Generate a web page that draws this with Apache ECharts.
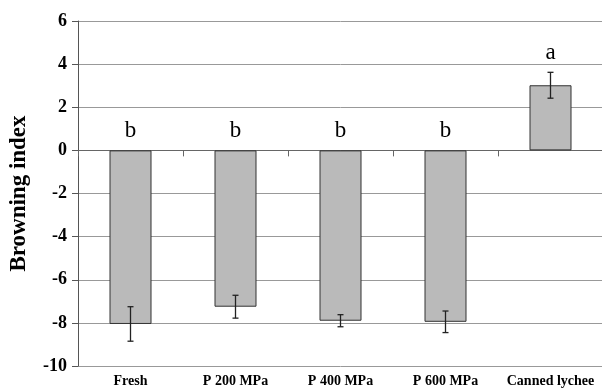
<!DOCTYPE html>
<html><head><meta charset="utf-8">
<script src="https://cdn.jsdelivr.net/npm/echarts@6/dist/echarts.min.js"></script>
<style>html,body{margin:0;padding:0;background:#fff}#c{width:602px;height:392px}</style>
</head><body><div id="c"></div>
<script>
var categories = ['Fresh', 'P 200 MPa', 'P 400 MPa', 'P 600 MPa', 'Canned lychee'];
var browningIndex = [-8.05, -7.25, -7.9, -7.95, 3.02];
var errorSD = [0.8, 0.53, 0.28, 0.5, 0.6];
var letters = ['b', 'b', 'b', 'b', 'a'];
var yTicks = { min: -10, max: 6, interval: 2 };

var serif = '"Liberation Serif", "Times New Roman", serif';
var chart = echarts.init(document.getElementById('c'));
var errData = browningIndex.map(function (v, i) { return [i, v - errorSD[i], v + errorSD[i]]; });
var letterData = browningIndex.map(function (v, i) { return [i, Math.max(0, v + errorSD[i]) + 0.38, letters[i]]; });

chart.setOption({
  animation: false,
  grid: { left: 78, top: 21, width: 525, bottom: 26, containLabel: false, outerBoundsMode: 'none' },
  xAxis: [{
    type: 'category', data: categories,
    axisLine: { show: false, onZero: false }, axisTick: { show: false },
    axisLabel: { fontFamily: serif, fontWeight: 'bold', fontSize: 14, color: '#000', margin: 8, interval: 0 }
  }, {
    type: 'category', data: categories, position: 'bottom',
    axisLine: { show: true, onZero: true, lineStyle: { color: '#666', width: 1 } },
    axisTick: { show: true, inside: false, length: 6, lineStyle: { color: '#666' } },
    axisLabel: { show: false }
  }],
  yAxis: {
    type: 'value', min: yTicks.min, max: yTicks.max, interval: yTicks.interval,
    name: 'Browning index', nameLocation: 'middle', nameGap: 47,
    nameTextStyle: { fontFamily: serif, fontWeight: 'bold', fontSize: 23, color: '#000' },
    axisLine: { show: true, lineStyle: { color: '#555' } },
    axisTick: { show: true, length: 6, lineStyle: { color: '#555' } },
    splitLine: { lineStyle: { color: '#999', width: 1 } },
    axisLabel: { fontFamily: serif, fontWeight: 'bold', fontSize: 18, color: '#000', margin: 11 }
  },
  series: [{
    type: 'bar', data: browningIndex, barWidth: 42,
    itemStyle: { color: '#bababa', borderColor: '#333', borderWidth: 1 }
  }, {
    type: 'custom', data: errData, z: 5,
    renderItem: function (params, api) {
      var x = api.value(0);
      var lo = api.coord([x, api.value(1)]);
      var hi = api.coord([x, api.value(2)]);
      var hw = 3;
      var st = { stroke: '#222', lineWidth: 1.3 };
      return { type: 'group', children: [
        { type: 'line', shape: { x1: lo[0], y1: lo[1], x2: hi[0], y2: hi[1] }, style: st },
        { type: 'line', shape: { x1: lo[0] - hw, y1: lo[1], x2: lo[0] + hw, y2: lo[1] }, style: st },
        { type: 'line', shape: { x1: hi[0] - hw, y1: hi[1], x2: hi[0] + hw, y2: hi[1] }, style: st }
      ] };
    }
  }, {
    type: 'custom', data: letterData, z: 6,
    renderItem: function (params, api) {
      var p = api.coord([api.value(0), api.value(1)]);
      return { type: 'text', x: p[0], y: p[1], style: {
        text: letters[params.dataIndex], fontFamily: serif, fontSize: 23, fill: '#000',
        textAlign: 'center', textVerticalAlign: 'bottom' } };
    }
  }]
});
</script></body></html>
